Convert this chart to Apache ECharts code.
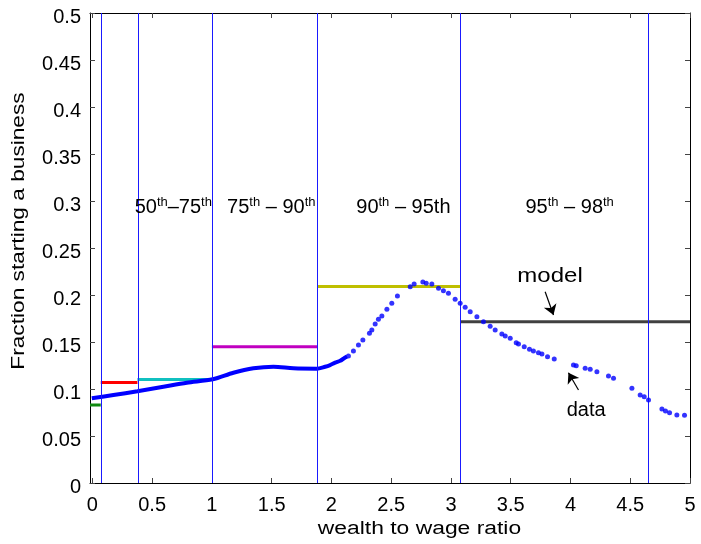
<!DOCTYPE html>
<html><head><meta charset="utf-8">
<script src="https://cdn.jsdelivr.net/npm/echarts@6/dist/echarts.min.js"></script>
<style>html,body{margin:0;padding:0;background:#fff}#c{width:701px;height:544px}</style>
</head><body><div id="c"></div>
<script>
// ---- data ----
const xTicks = [0, 0.5, 1, 1.5, 2, 2.5, 3, 3.5, 4, 4.5, 5];
const boundaries = [0.07, 0.377, 1.0, 1.883, 3.077, 4.653];
const modelStart = [-0.02, 0.07, 0.377, 1.0, 1.883, 3.077];
const modelEnd = [0.07, 0.377, 1.0, 1.883, 3.077, 5];
const modelValues = [0.083, 0.107, 0.110, 0.145, 0.209, 0.1716];
const modelColors = ['#108a10', '#ff0000', '#10c0c0', '#c000c0', '#bfbf00', '#404040'];
const denseX = [-0.005, 0.176, 0.377, 0.594, 0.79, 1.007, 1.18, 1.347, 1.515, 1.682, 1.877, 1.947, 1.989, 2.031, 2.073, 2.1, 2.13];
const denseY = [0.0901, 0.0936, 0.0976, 0.1024, 0.1067, 0.1103, 0.1173, 0.122, 0.1237, 0.122, 0.1216, 0.1237, 0.1255, 0.128, 0.130, 0.1322, 0.1345];
const dotX = [2.142, 2.184, 2.226, 2.263, 2.318, 2.338, 2.366, 2.393, 2.422, 2.464, 2.505, 2.552, 2.659, 2.692, 2.765, 2.793, 2.840, 2.896, 2.937, 2.979, 3.035, 3.077, 3.119, 3.161, 3.217, 3.272, 3.328, 3.37, 3.426, 3.454, 3.496, 3.546, 3.565, 3.613, 3.657, 3.69, 3.732, 3.761, 3.808, 3.864, 4.025, 4.048, 4.123, 4.165, 4.221, 4.318, 4.36, 4.514, 4.583, 4.617, 4.653, 4.765, 4.795, 4.829, 4.89, 4.954];
const dotY = [0.1351, 0.1404, 0.1468, 0.1521, 0.1592, 0.1628, 0.1691, 0.1741, 0.1777, 0.1848, 0.1912, 0.1989, 0.2088, 0.2117, 0.2138, 0.2124, 0.2117, 0.2071, 0.2046, 0.2018, 0.1954, 0.1912, 0.1869, 0.1822, 0.1769, 0.1716, 0.1667, 0.1628, 0.1585, 0.1564, 0.1539, 0.1493, 0.1479, 0.145, 0.1422, 0.1404, 0.1386, 0.1372, 0.1344, 0.1319, 0.1255, 0.1248, 0.122, 0.121, 0.1184, 0.1138, 0.1114, 0.1007, 0.0936, 0.0918, 0.0883, 0.0787, 0.0766, 0.0748, 0.0723, 0.072];
const groupTexts = ['{n|50}{s|th}{n|–75}{s|th}', '{n|75}{s|th}{n| – 90}{s|th}', '{n|90}{s|th}{n| – 95th}', '{n|95}{s|th}{n| – 98}{s|th}'];
const groupAnchorX = [0.677, 1.497, 2.602, 3.993];
const groupAnchorY = [0.2936, 0.2936, 0.2936, 0.2936];
const noteTexts = ['model', 'data'];
const noteAnchorX = [3.829, 4.131];
const noteAnchorY = [0.2198, 0.0772];
const arrowFrom = [[3.788, 0.2035], [4.067, 0.0989]];
const arrowTo = [[3.858, 0.1787], [3.983, 0.1173]];

const FONT = 'Liberation Sans, Arial, sans-serif';
const chart = echarts.init(document.getElementById('c'), null, {renderer: 'canvas'});

const series = [];
modelValues.forEach((v, i) => {
  series.push({type: 'line', xAxisIndex: 0, yAxisIndex: 0, symbol: 'none', silent: true,
    data: [[modelStart[i], v], [modelEnd[i], v]],
    lineStyle: {color: modelColors[i], width: 3}, z: 3});
});
series.push({type: 'line', xAxisIndex: 0, yAxisIndex: 0, symbol: 'none', silent: true, smooth: 0.3,
  data: denseX.map((x, i) => [x, denseY[i]]),
  lineStyle: {color: '#0000ff', width: 4}, z: 4,
  markLine: {silent: true, symbol: ['none', 'none'], label: {show: false},
    lineStyle: {color: '#1a1aff', width: 1, type: 'solid'},
    data: boundaries.map(b => ({xAxis: b}))}
});
series.push({type: 'scatter', xAxisIndex: 0, yAxisIndex: 0, silent: true, symbolSize: 5,
  data: dotX.map((x, i) => [x, dotY[i]]),
  itemStyle: {color: '#0000ff'}, z: 6,
  markLine: {silent: true, symbol: ['none', 'arrow'], symbolSize: 10, label: {show: false},
    lineStyle: {color: '#000', width: 1.2, type: 'solid'},
    data: arrowFrom.map((f, i) => [{coord: f}, {coord: arrowTo[i]}])}
});

const axisCommon = {
  type: 'value',
  axisLine: {show: true, onZero: false, lineStyle: {color: '#000', width: 1}},
  axisTick: {show: true, inside: true, length: 5, lineStyle: {color: '#444', width: 1}},
  splitLine: {show: false}
};
const fmt = v => String(+(+v).toFixed(2));

chart.setOption({
  animation: false,
  backgroundColor: '#fff',
  grid: {left: 90, right: 11, top: 13, bottom: 61, containLabel: false, outerBoundsMode: 'none'},
  xAxis: [
    Object.assign({}, axisCommon, {position: 'bottom', min: -0.02, max: 5,
      axisTick: Object.assign({}, axisCommon.axisTick, {customValues: xTicks}),
      axisLabel: {customValues: xTicks, margin: 12, fontSize: 20, fontFamily: FONT, color: '#000', formatter: fmt}}),
    Object.assign({}, axisCommon, {position: 'top', min: -0.02, max: 5,
      axisTick: Object.assign({}, axisCommon.axisTick, {customValues: xTicks}),
      axisLabel: {show: false}})
  ],
  yAxis: [
    Object.assign({}, axisCommon, {position: 'left', min: 0, max: 0.5, interval: 0.05,
      axisLabel: {margin: 9, color: '#000',
        formatter: v => '{a|' + fmt(v) + '}',
        rich: {a: {fontSize: 20, fontFamily: FONT, color: '#000', padding: [9, 0, 0, 0]}}}}),
    Object.assign({}, axisCommon, {position: 'right', min: 0, max: 0.5, interval: 0.05,
      axisLabel: {show: false}})
  ],
  series: series
});

const graphics = [];
groupTexts.forEach((t, i) => {
  const p = chart.convertToPixel({xAxisIndex: 0, yAxisIndex: 0}, [groupAnchorX[i], groupAnchorY[i]]);
  graphics.push({type: 'text', x: p[0], y: p[1], z: 50, silent: true,
    style: {text: t, fill: '#000', align: 'center', verticalAlign: 'middle', textAlign: 'center', textVerticalAlign: 'middle',
      rich: {n: {fontSize: 20, fontFamily: FONT, lineHeight: 22, fill: '#000'},
             s: {fontSize: 13, fontFamily: FONT, verticalAlign: 'top', lineHeight: 13, fill: '#000'}}}});
});
const noteScale = [1.2, 1.0];
noteTexts.forEach((t, i) => {
  const p = chart.convertToPixel({xAxisIndex: 0, yAxisIndex: 0}, [noteAnchorX[i], noteAnchorY[i]]);
  graphics.push({type: 'text', x: p[0], y: p[1], scaleX: noteScale[i], z: 50, silent: true,
    style: {text: t, fill: '#000', fontSize: 20, fontFamily: FONT, align: 'center', verticalAlign: 'middle',
      textAlign: 'center', textVerticalAlign: 'middle'}});
});
graphics.push({type: 'text', x: 419.5, y: 529, scaleX: 1.27, silent: true,
  style: {text: 'wealth to wage ratio', fill: '#000', fontSize: 18, fontFamily: FONT, align: 'center', verticalAlign: 'middle',
    textAlign: 'center', textVerticalAlign: 'middle'}});
graphics.push({type: 'text', x: 19, y: 231, rotation: Math.PI / 2, scaleX: 1.26, silent: true,
  style: {text: 'Fraction starting a business', fill: '#000', fontSize: 18, fontFamily: FONT, align: 'center', verticalAlign: 'middle',
    textAlign: 'center', textVerticalAlign: 'middle'}});
chart.setOption({graphic: graphics});
</script></body></html>
